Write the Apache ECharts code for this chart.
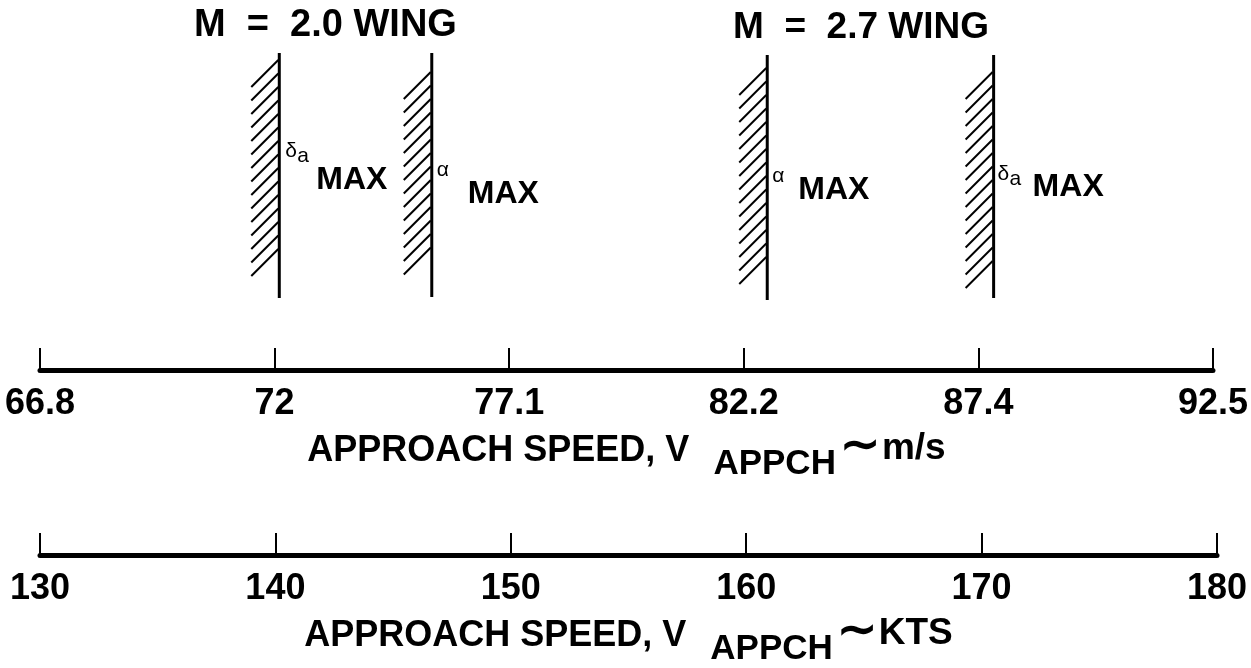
<!DOCTYPE html>
<html>
<head>
<meta charset="utf-8">
<script src="https://cdn.jsdelivr.net/npm/echarts@6/dist/echarts.min.js"></script>
<style>
html,body{margin:0;padding:0;background:#fff;}
#chart{width:1251px;height:668px;}
</style>
</head>
<body>
<div id="chart"></div>
<script>
// ---- data ----
const ktsTicks = [130, 140, 150, 160, 170, 180];
const ktsLabels = ['130', '140', '150', '160', '170', '180'];
const msLabels = ['66.8', '72', '77.1', '82.2', '87.4', '92.5'];
const wingTitles = ['M  =  2.0 WING', 'M  =  2.7 WING'];
const limitSymbols = ['δ', 'α', 'α', 'δ'];
const limitSubs = ['a', '', '', 'a'];
const limitSpeedsKts = [140.2, 146.7, 161.0, 170.65];

// ---- style / layout (not data) ----
const FONT = '"Liberation Sans", Arial, Helvetica, sans-serif';
const markStyle = [
  { top: 53, bot: 298, hTop: 60, hBot: 279, sym: [6, 141], max: [37, 180] },
  { top: 53, bot: 297, hTop: 72, hBot: 282, sym: [5, 160], max: [36, 194] },
  { top: 55, bot: 300, hTop: 68, hBot: 287, sym: [5, 166], max: [31, 190] },
  { top: 55, bot: 298, hTop: 72, hBot: 292, sym: [4, 164], max: [39, 187] }
];

function renderLimit(params, api) {
  const i = params.dataIndex;
  const x = api.coord([api.value(0), 0])[0];
  const s = markStyle[i];
  const children = [];
  children.push({ type: 'line', shape: { x1: x, y1: s.top, x2: x, y2: s.bot },
    style: { stroke: '#000', lineWidth: 3 } });
  const hw = 28, hh = 27, step = 13.5;
  for (let y = s.hTop; y + hh <= s.hBot + 0.5; y += step) {
    children.push({ type: 'line', shape: { x1: x - hw, y1: y + hh, x2: x - 1, y2: y },
      style: { stroke: '#000', lineWidth: 2 } });
  }
  children.push({ type: 'text', x: x + s.sym[0], y: s.sym[1],
    style: { text: limitSymbols[i], fontSize: 21, fontFamily: FONT, fill: '#000', align: 'left', verticalAlign: 'top' } });
  if (limitSubs[i]) {
    children.push({ type: 'text', x: x + s.sym[0] + 12, y: s.sym[1] + 5,
      style: { text: limitSubs[i], fontSize: 21, fontFamily: FONT, fill: '#000', align: 'left', verticalAlign: 'top' } });
  }
  children.push({ type: 'text', x: x + s.max[0], y: s.max[1],
    style: { text: 'MAX', fontSize: 32, fontWeight: 'bold', fontFamily: FONT, fill: '#000', align: 'left', verticalAlign: 'middle' } });
  return { type: 'group', children: children };
}

function axisName(unit) {
  return '{a|APPROACH SPEED, V }{s|APPCH}{t|∼}{u|' + unit + '}';
}
const nameRich = {
  a: { fontSize: 36, fontWeight: 'bold', fontFamily: FONT, color: '#000', verticalAlign: 'bottom', padding: [0, 0, 13, 0] },
  s: { fontSize: 35, fontWeight: 'bold', fontFamily: FONT, color: '#000', verticalAlign: 'bottom', padding: [0, 0, 0, 14] },
  t: { fontSize: 48, fontWeight: 'bold', fontFamily: FONT, color: '#000', verticalAlign: 'bottom', padding: [0, 2, 11, 4] },
  u: { fontSize: 37, fontWeight: 'bold', fontFamily: FONT, color: '#000', verticalAlign: 'bottom', padding: [0, 0, 15, 0] }
};

function baseAxis(gridIndex, labels, unit, gap) {
  return {
    type: 'value', gridIndex: gridIndex, position: 'bottom',
    min: ktsTicks[0], max: ktsTicks[ktsTicks.length - 1], interval: ktsTicks[1] - ktsTicks[0],
    splitLine: { show: false },
    axisLine: { show: true, onZero: false, lineStyle: { color: '#000', width: 5 } },
    axisTick: { show: true, inside: true, length: 22, lineStyle: { color: '#000', width: 2 } },
    axisLabel: {
      show: true, margin: 16, color: '#000', fontSize: 36, fontWeight: 'bold', fontFamily: FONT,
      formatter: function (v) { return labels[ktsTicks.indexOf(Math.round(v))]; }
    },
    name: axisName(unit), nameLocation: 'middle', nameGap: gap,
    nameTextStyle: { rich: nameRich }
  };
}

const chart = echarts.init(document.getElementById('chart'), null, { renderer: 'canvas' });
chart.setOption({
  backgroundColor: '#fff',
  animation: false,
  title: [
    { text: wingTitles[0], left: 189, top: 2, textStyle: { fontSize: 38, fontWeight: 'bold', fontFamily: FONT, color: '#000' } },
    { text: wingTitles[1], left: 728, top: 4, textStyle: { fontSize: 37, fontWeight: 'bold', fontFamily: FONT, color: '#000' } }
  ],
  grid: [
    { left: 40, right: 34, top: 52, height: 318 },
    { left: 40, right: 34, top: 478, height: 78 }
  ],
  xAxis: [
    baseAxis(0, msLabels, 'm/s', 44),
    baseAxis(1, ktsLabels, 'KTS', 47)
  ],
  yAxis: [
    { type: 'value', gridIndex: 0, min: 0, max: 1, show: false },
    { type: 'value', gridIndex: 1, min: 0, max: 1, show: false }
  ],
  series: [{
    type: 'custom', xAxisIndex: 0, yAxisIndex: 0,
    renderItem: renderLimit,
    data: limitSpeedsKts.map(function (v) { return [v, 0]; }),
    encode: { x: 0, y: 1 },
    clip: false
  }]
});
</script>
</body>
</html>
